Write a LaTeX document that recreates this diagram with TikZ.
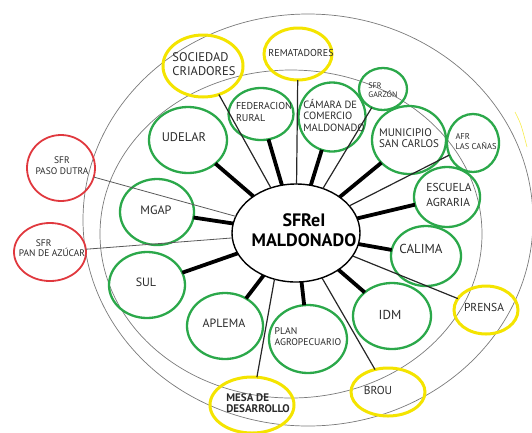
\documentclass[tikz,border=0pt]{standalone}
\usepackage{fontspec}
\setmainfont{PT Sans}
\usetikzlibrary{shapes.geometric}
\definecolor{gr}{HTML}{2BA84A}
\definecolor{yl}{HTML}{F4E400}
\definecolor{rd}{HTML}{E0383E}
\definecolor{ringc}{HTML}{7A7A7A}
\definecolor{tx}{HTML}{2A2A2A}
\begin{document}
\begin{tikzpicture}[x=1pt,y=-1pt,
  el/.style={ellipse, inner sep=0pt, outer sep=0pt},
  gnode/.style={el, draw=gr, line width=2.3pt},
  ynode/.style={el, draw=yl, line width=3pt},
  rnode/.style={el, draw=rd, line width=1.8pt},
  cnode/.style={el, draw=black, line width=1.4pt},
  sz/.style 2 args={minimum width=#1pt, minimum height=#2pt},
  lbl/.style 2 args={text=tx, inner sep=0pt, align=center, font=\fontsize{#1}{#2}\selectfont},
  ringline/.style={draw=ringc, line width=0.7pt},
  tk/.style={draw=black, line width=3.8pt},
  tn/.style={draw=black!85, line width=1.2pt},
  tg/.style={draw=black!65, line width=0.8pt}
]
\useasboundingbox (0,0) rectangle (532,432);
% rings
\draw[ringline] (308,220) ellipse [x radius=225pt, y radius=206pt];
\draw[ringline] (291,234) ellipse [x radius=191pt, y radius=164pt];
\draw[draw=yl!70, line width=0.6pt] (515,112) .. controls (521,124) .. (527,147);
% nodes
\node[cnode, sz={128}{98}] (c) at (296,233) {};
\node[ynode, sz={80}{62}] (soc) at (203,66) {};
\node[ynode, sz={68}{52}] (rem) at (298,54) {};
\node[gnode, sz={65}{52}] (fed) at (261,114) {};
\node[gnode, sz={67}{69}] (cam) at (332,117) {};
\node[gnode, sz={48}{42}] (gar) at (383,89) {};
\node[gnode, sz={74}{68}] (mun) at (409,140) {};
\node[gnode, sz={52}{58}] (afr) at (473,143) {};
\node[gnode, sz={66}{60}] (esc) at (447,197) {};
\node[gnode, sz={70}{60}] (cal) at (426,256) {};
\node[gnode, sz={78}{66}] (idm) at (392,316) {};
\node[ynode, sz={64}{48}] (pre) at (486,310) {};
\node[ynode, sz={74}{48}] (brou) at (388,392) {};
\node[gnode, sz={78}{68}] (plan) at (308,339) {};
\node[ynode, sz={84}{56}] (mesa) at (252,405) {};
\node[gnode, sz={76}{66}] (apl) at (225,326) {};
\node[gnode, sz={76}{66}] (sul) at (147,285) {};
\node[rnode, sz={72}{58}] (pan) at (50,252) {};
\node[gnode, sz={74}{66}] (mgap) at (157,212) {};
\node[rnode, sz={68}{66}] (paso) at (61,168) {};
\node[gnode, sz={78}{66}] (ude) at (188,140) {};
% connectors
\draw[tk] (ude) -- (c);
\draw[tk] (fed) -- (c);
\draw[tk] (cam) -- (c);
\draw[tk] (mun) -- (c);
\draw[tk] (esc) -- (c);
\draw[tk] (cal) -- (c);
\draw[tk] (idm) -- (c);
\draw[tk] (plan) -- (c);
\draw[tk] (apl) -- (c);
\draw[tk] (sul) -- (c);
\draw[tk] (mgap) -- (c);
\draw[tn] (soc) -- (c);
\draw[tn] (rem) -- (c);
\draw[tn] (gar) -- (c);
\draw[tn] (afr) -- (c);
\draw[tn] (pre) -- (c);
\draw[tn] (brou) -- (c);
\draw[tn] (mesa.80) -- (c.245);
\draw[tg] (paso) -- (c);
\draw[tg] (pan) -- (c);
% texts
\node[lbl={18}{20}, font=\fontsize{18}{20}\selectfont\bfseries, text=black] (c-t) at (304,230) {SFReI\\MALDONADO};
\node[lbl={12.5}{14}, align=left] (soc-t) at (204,64) {SOCIEDAD\\CRIADORES};
\node[lbl={10}{12}] (rem-t) at (301,53) {REMATADORES};
\node[lbl={10}{12}, align=left] (fed-t) at (264,112) {FEDERACION\\RURAL};
\node[lbl={10.5}{11.5}, align=left] (cam-t) at (334,115) {CÁMARA DE\\COMERCIO\\MALDONADO};
\node[lbl={8}{9.5}, align=left] (gar-t) at (383,90) {SFR\\GARZÓN};
\node[lbl={11}{11.5}, align=left] (mun-t) at (409,138) {MUNICIPIO\\SAN CARLOS};
\node[lbl={8.5}{10}, align=left] (afr-t) at (476,142) {AFR\\LAS CAÑAS};
\node[lbl={11.5}{15}, align=left] (esc-t) at (449,195) {ESCUELA\\AGRARIA};
\node[lbl={13}{15}] (cal-t) at (421,249) {CALIMA};
\node[lbl={13}{15}] (idm-t) at (390,315) {IDM};
\node[lbl={11.5}{13}] (pre-t) at (484,307) {PRENSA};
\node[lbl={11.5}{13}] (brou-t) at (378,390) {BROU};
\node[lbl={9.7}{11}, align=left] (plan-t) at (308,337) {PLAN\\AGROPECUARIO};
\node[lbl={11}{11.5}, align=left, font=\fontsize{11}{11.5}\selectfont\bfseries] (mesa-t) at (258,403) {MESA DE\\DESARROLLO};
\node[lbl={12}{14}] (apl-t) at (224,323) {APLEMA};
\node[lbl={12}{14}] (sul-t) at (146,282) {SUL};
\node[lbl={12.2}{14}] (mgap-t) at (156,210) {MGAP};
\node[lbl={12.5}{14}] (ude-t) at (184,137) {UDELAR};
\node[lbl={9.5}{11}] (paso-t) at (62,166) {SFR\\PASO DUTRA};
\node[lbl={9.5}{10.5}, align=left] (pan-t) at (52,248) {\hspace*{17pt}SFR\\PAN DE AZÚCAR};
\end{tikzpicture}
\end{document}
